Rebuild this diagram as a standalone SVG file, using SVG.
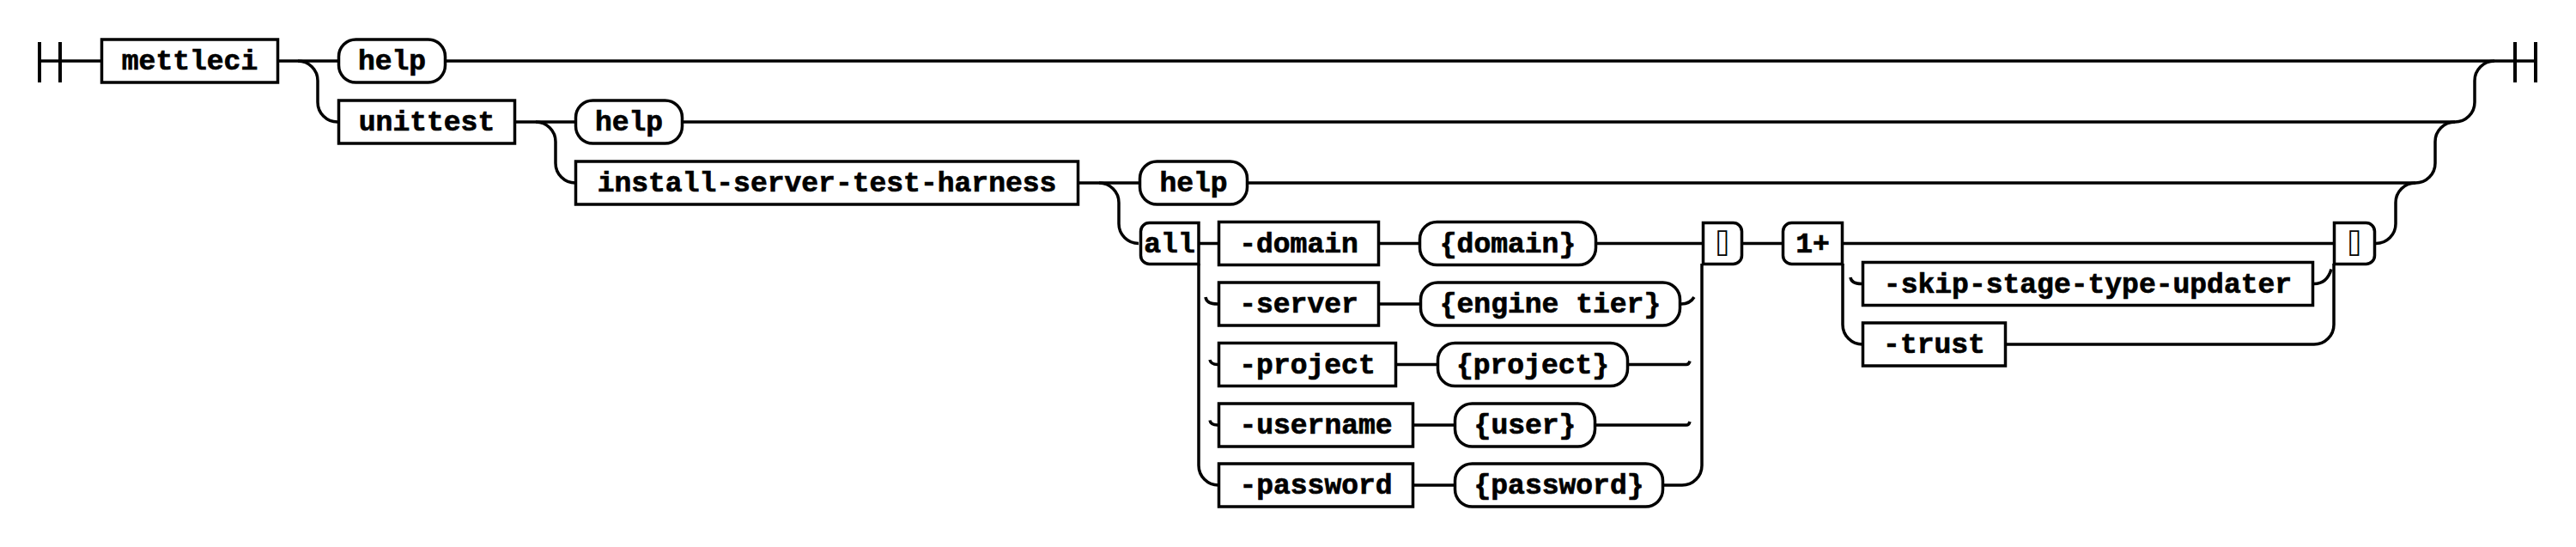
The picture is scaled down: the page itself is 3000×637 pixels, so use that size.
<svg xmlns="http://www.w3.org/2000/svg" width="3000" height="637" viewBox="0 0 3000 637">
<style>
.rail{fill:none;stroke:#000;stroke-width:3.5}
.mark{fill:none;stroke:#000;stroke-width:4}
.box{fill:#fff;stroke:#000;stroke-width:3.5}
text{font-family:"Liberation Mono","DejaVu Sans Mono",monospace;font-weight:bold;font-size:33px;text-anchor:middle;fill:#000;stroke:#000;stroke-width:0.7}
text.q{font-family:"DejaVu Sans Mono","Liberation Mono",monospace;font-weight:normal;font-size:32px;stroke:none}
</style>
<rect width="3000" height="637" fill="#fff"/>
<g id="connectors">
<path class="mark" d="M46,49V96M70,49V96M2929,49V96M2953,49V96"/>
<path class="rail" d="M46,71H117M325,71H393M520,71H2953"/>
<path class="rail" d="M347,71a23,23 0 0 1 23,23V119a23,23 0 0 0 23,23"/>
<path class="rail" d="M601,142H669M796,142H2859a23,23 0 0 0 23,-23V94a23,23 0 0 1 23,-23"/>
<path class="rail" d="M624,142a23,23 0 0 1 23,23V190a23,23 0 0 0 23,23"/>
<path class="rail" d="M1257,213H1326M1454,213H2813a23,23 0 0 0 23,-23V165a23,23 0 0 1 23,-23"/>
<path class="rail" d="M1280,213a23,23 0 0 1 23,23V260.5a23,23 0 0 0 23,23"/>
<path class="rail" d="M2767,283.5a23,23 0 0 0 23,-23V236a23,23 0 0 1 23,-23"/>
<path class="rail" d="M1396,283.5H1418M1607,283.5H1652M1860,283.5H1982"/>
<path class="rail" d="M1396,307V542a23,23 0 0 0 23,23"/>
<path class="rail" d="M1607,354H1653M1627,424.5H1673M1647,495H1693M1647,565H1693"/>
<path class="rail" d="M1938,565H1959a23,23 0 0 0 23,-23V307"/>
<path class="rail" d="M1958,354q10,0 15,-8M1897,424.5H1964q3,0 4,-4M1859,495H1964q3,0 4,-4"/>
<path class="rail" d="M1404,346q1,8 14,8M1409,419q1,5.5 9,5.5M1409,489.5q1,5.5 9,5.5"/>
<path class="rail" d="M2030,283.5H2075M2146,283.5H2717"/>
<path class="rail" d="M2146,307V378a23,23 0 0 0 23,23"/>
<path class="rail" d="M2155,323q1,7.5 13,7.5"/>
<path class="rail" d="M2337,401H2695a23,23 0 0 0 23,-23V307"/>
<path class="rail" d="M2695,330.5q15,0 20,-17"/>
</g>
<g id="n-mettleci"><rect class="box" x="118.5" y="46" width="205" height="50"/><text x="221" y="81">mettleci</text></g>
<g id="n-help1"><rect class="box" x="394.5" y="46" width="124" height="50" rx="20"/><text x="456.5" y="81">help</text></g>
<g id="n-unittest"><rect class="box" x="394.5" y="117" width="205" height="50"/><text x="497" y="152">unittest</text></g>
<g id="n-help2"><rect class="box" x="670.5" y="117" width="124" height="50" rx="20"/><text x="732.5" y="152">help</text></g>
<g id="n-install"><rect class="box" x="670.5" y="188" width="585" height="50"/><text x="963" y="223">install-server-test-harness</text></g>
<g id="n-help3"><rect class="box" x="1327.5" y="188" width="125" height="50" rx="20"/><text x="1390" y="223">help</text></g>
<g id="n-all"><path class="box" d="M1396,259.5H1338.5a10,10 0 0 0 -10,10V297.5a10,10 0 0 0 10,10H1396Z"/><text x="1362" y="293.5">all</text></g>
<g id="n-domain"><rect class="box" x="1419.5" y="258.5" width="186" height="50"/><text x="1512.5" y="293.5">-domain</text></g>
<g id="n-domain-v"><rect class="box" x="1653.5" y="258.5" width="205" height="50" rx="20"/><text x="1756" y="293.5">{domain}</text></g>
<g id="n-server"><rect class="box" x="1419.5" y="329" width="186" height="50"/><text x="1512.5" y="364">-server</text></g>
<g id="n-server-v"><rect class="box" x="1654.5" y="329" width="302" height="50" rx="20"/><text x="1805.5" y="364">{engine tier}</text></g>
<g id="n-project"><rect class="box" x="1419.5" y="399.5" width="206" height="50"/><text x="1522.5" y="434.5">-project</text></g>
<g id="n-project-v"><rect class="box" x="1674.5" y="399.5" width="221" height="50" rx="20"/><text x="1785" y="434.5">{project}</text></g>
<g id="n-username"><rect class="box" x="1419.5" y="470" width="226" height="50"/><text x="1532.5" y="505">-username</text></g>
<g id="n-username-v"><rect class="box" x="1694.5" y="470" width="163" height="50" rx="20"/><text x="1776" y="505">{user}</text></g>
<g id="n-password"><rect class="box" x="1419.5" y="540" width="226" height="50"/><text x="1532.5" y="575">-password</text></g>
<g id="n-password-v"><rect class="box" x="1694.5" y="540" width="242" height="50" rx="20"/><text x="1815.5" y="575">{password}</text></g>
<g id="n-end1"><path class="box" d="M1983.5,259.5H2018.5a10,10 0 0 1 10,10V297.5a10,10 0 0 1 -10,10H1983.5Z"/><text class="q" x="2006" y="295">⌷</text></g>
<g id="n-oneplus"><path class="box" d="M2145.5,259.5H2086.5a10,10 0 0 0 -10,10V297.5a10,10 0 0 0 10,10H2145.5Z"/><text x="2111" y="293.5">1+</text></g>
<g id="n-skip"><rect class="box" x="2169.5" y="305.5" width="524" height="50"/><text x="2431.5" y="340.5">-skip-stage-type-updater</text></g>
<g id="n-trust"><rect class="box" x="2169.5" y="376" width="166" height="50"/><text x="2252.5" y="411">-trust</text></g>
<g id="n-end2"><path class="box" d="M2718.5,259.5H2755.5a10,10 0 0 1 10,10V297.5a10,10 0 0 1 -10,10H2718.5Z"/><text class="q" x="2742" y="295">⌷</text></g>
</svg>
